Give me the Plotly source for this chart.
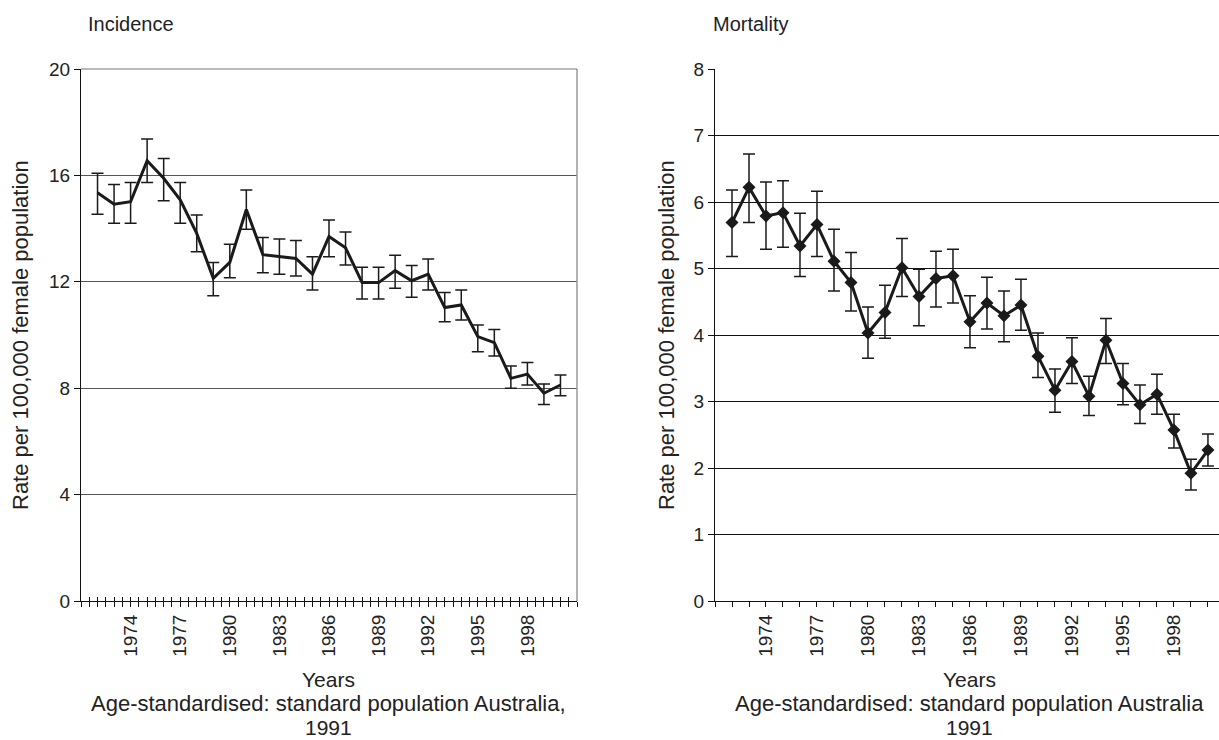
import plotly.graph_objects as go

years = list(range(1972, 2001))

inc_rate = [15.35, 14.92, 15.01, 16.55, 15.89, 15.08, 13.82, 12.13, 12.73, 14.72,
            13.02, 12.95, 12.88, 12.29, 13.70, 13.28, 11.97, 11.97, 12.42, 12.04,
            12.29, 11.03, 11.13, 9.94, 9.71, 8.37, 8.53, 7.81, 8.12]
inc_upper = [16.08, 15.66, 15.73, 17.37, 16.64, 15.73, 14.51, 12.73, 13.41, 15.45,
             13.67, 13.61, 13.55, 12.94, 14.32, 13.87, 12.55, 12.55, 13.00, 12.61,
             12.86, 11.60, 11.69, 10.38, 10.21, 8.83, 8.97, 8.16, 8.50]
inc_lower = [14.54, 14.20, 14.20, 15.73, 15.05, 14.20, 13.13, 11.48, 12.15, 13.98,
             12.34, 12.28, 12.22, 11.69, 12.94, 12.63, 11.35, 11.35, 11.76, 11.42,
             11.69, 10.50, 10.56, 9.37, 9.21, 8.00, 8.12, 7.39, 7.72]

mort_rate = [5.69, 6.22, 5.79, 5.84, 5.34, 5.66, 5.11, 4.79, 4.03, 4.34,
             5.01, 4.58, 4.85, 4.89, 4.20, 4.48, 4.29, 4.45, 3.68, 3.17,
             3.60, 3.08, 3.92, 3.27, 2.95, 3.11, 2.57, 1.92, 2.27]
mort_upper = [6.18, 6.72, 6.30, 6.32, 5.83, 6.16, 5.59, 5.24, 4.42, 4.75,
              5.45, 4.99, 5.26, 5.29, 4.59, 4.87, 4.66, 4.84, 4.03, 3.49,
              3.96, 3.38, 4.25, 3.57, 3.25, 3.41, 2.81, 2.13, 2.51]
mort_lower = [5.18, 5.69, 5.29, 5.32, 4.88, 5.18, 4.66, 4.36, 3.65, 3.95,
              4.58, 4.14, 4.42, 4.48, 3.81, 4.09, 3.90, 4.07, 3.36, 2.84,
              3.27, 2.79, 3.57, 2.95, 2.67, 2.81, 2.30, 1.67, 2.03]

label_years = list(range(1974, 1999, 3))
inc_yticks = [0, 4, 8, 12, 16, 20]
mort_yticks = [0, 1, 2, 3, 4, 5, 6, 7, 8]

TXT = "#222222"
FONT = "Liberation Sans, Arial, sans-serif"

W, H = 1219, 740
def px(x):
    return x / W
def py(y):
    return 1 - y / H

fig = go.Figure()

fig.add_trace(go.Scatter(
    x=years, y=inc_rate, mode="lines",
    line=dict(color="#1a1a1a", width=3),
    error_y=dict(type="data", symmetric=False,
                 array=[u - r for u, r in zip(inc_upper, inc_rate)],
                 arrayminus=[r - l for r, l in zip(inc_rate, inc_lower)],
                 color="#1a1a1a", thickness=1.5, width=6),
    xaxis="x", yaxis="y", showlegend=False))

fig.add_trace(go.Scatter(
    x=years, y=mort_rate, mode="lines+markers",
    line=dict(color="#1a1a1a", width=3),
    marker=dict(symbol="diamond", size=10, color="#1a1a1a"),
    error_y=dict(type="data", symmetric=False,
                 array=[u - r for u, r in zip(mort_upper, mort_rate)],
                 arrayminus=[r - l for r, l in zip(mort_rate, mort_lower)],
                 color="#1a1a1a", thickness=1.5, width=6),
    xaxis="x2", yaxis="y2", showlegend=False))

dom_y = [py(601), py(69)]
dom_x1 = [px(81), px(577)]
dom_x2 = [px(715), 1.0]

common_x = dict(
    tickmode="array", tickvals=label_years, ticktext=[str(v) for v in label_years],
    tickangle=-90, ticks="outside", ticklen=5, tickcolor="#111", tickwidth=1,
    showgrid=False, zeroline=False, showline=True, linecolor="#111", linewidth=1,
    tickfont=dict(family=FONT, size=19, color=TXT), automargin=False,
)

fig.update_layout(
    width=W, height=H,
    margin=dict(l=0, r=0, t=0, b=0),
    paper_bgcolor="white", plot_bgcolor="white",
    font=dict(family=FONT, color=TXT),
    xaxis=dict(domain=dom_x1, range=[1971, 2001], anchor="y",
               minor=dict(tick0=1971, dtick=0.5, ticks="outside", ticklen=5,
                          tickcolor="#111", tickwidth=1),
               mirror=False, **common_x),
    xaxis3=dict(domain=dom_x1, range=[1971, 2001], anchor="y", overlaying="x",
                tickmode="linear", tick0=1971, dtick=0.5, ticks="inside",
                ticklen=4, tickcolor="#111", showticklabels=False,
                showgrid=False, zeroline=False, showline=False),
    yaxis=dict(domain=dom_y, range=[0, 20], tickvals=inc_yticks, anchor="x",
               ticks="outside", ticklen=6, tickcolor="#111",
               showgrid=True, gridcolor="#555555", gridwidth=1,
               zeroline=False, showline=True, linecolor="#111", linewidth=1,
               tickfont=dict(family=FONT, size=19, color=TXT), automargin=False),
    xaxis2=dict(domain=dom_x2, range=[1971, 2000.65], anchor="y2",
                minor=dict(tick0=1971, dtick=1, ticks="outside", ticklen=5,
                           tickcolor="#111", tickwidth=1),
                **common_x),
    yaxis2=dict(domain=dom_y, range=[0, 8], tickvals=mort_yticks, anchor="x2",
                ticks="outside", ticklen=6, tickcolor="#111",
                showgrid=True, gridcolor="#111111", gridwidth=1,
                zeroline=False, showline=True, linecolor="#111", linewidth=1,
                tickfont=dict(family=FONT, size=19, color=TXT), automargin=False),
)

# dummy trace so xaxis3 renders
fig.add_trace(go.Scatter(x=[1971], y=[None], xaxis="x3", yaxis="y",
                         showlegend=False, hoverinfo="skip"))

shapes = [
    dict(type="line", xref="paper", yref="paper", x0=dom_x1[1], x1=dom_x1[1],
         y0=dom_y[0], y1=dom_y[1], line=dict(color="#999999", width=1.5)),
    dict(type="line", xref="paper", yref="paper", x0=dom_x1[0], x1=dom_x1[1],
         y0=dom_y[1], y1=dom_y[1], line=dict(color="#777777", width=1)),
]
fig.update_layout(shapes=shapes)

ann = []
def text(x, y, s, size=18, angle=0):
    ann.append(dict(x=px(x), y=py(y), xref="paper", yref="paper", text=s,
                    showarrow=False, textangle=angle, xanchor="center", yanchor="middle",
                    font=dict(family=FONT, size=size, color=TXT)))

text(131, 24, "Incidence", 20)
text(751, 24, "Mortality", 20)
text(21, 335, "Rate per 100,000 female population", 22, -90)
text(667, 335, "Rate per 100,000 female population", 22, -90)
text(329, 679, "Years", 21)
text(329, 703, "Age-standardised: standard population Australia,", 22)
text(329, 727, "1991", 21)
text(969, 679, "Years", 21)
text(969, 703, "Age-standardised: standard population Australia", 22)
text(969, 727, "1991", 21)
fig.update_layout(annotations=ann)

fig.write_html("out.html", config={"displayModeBar": False},
               post_script="document.body.style.margin='0px';document.body.style.padding='0px';")
